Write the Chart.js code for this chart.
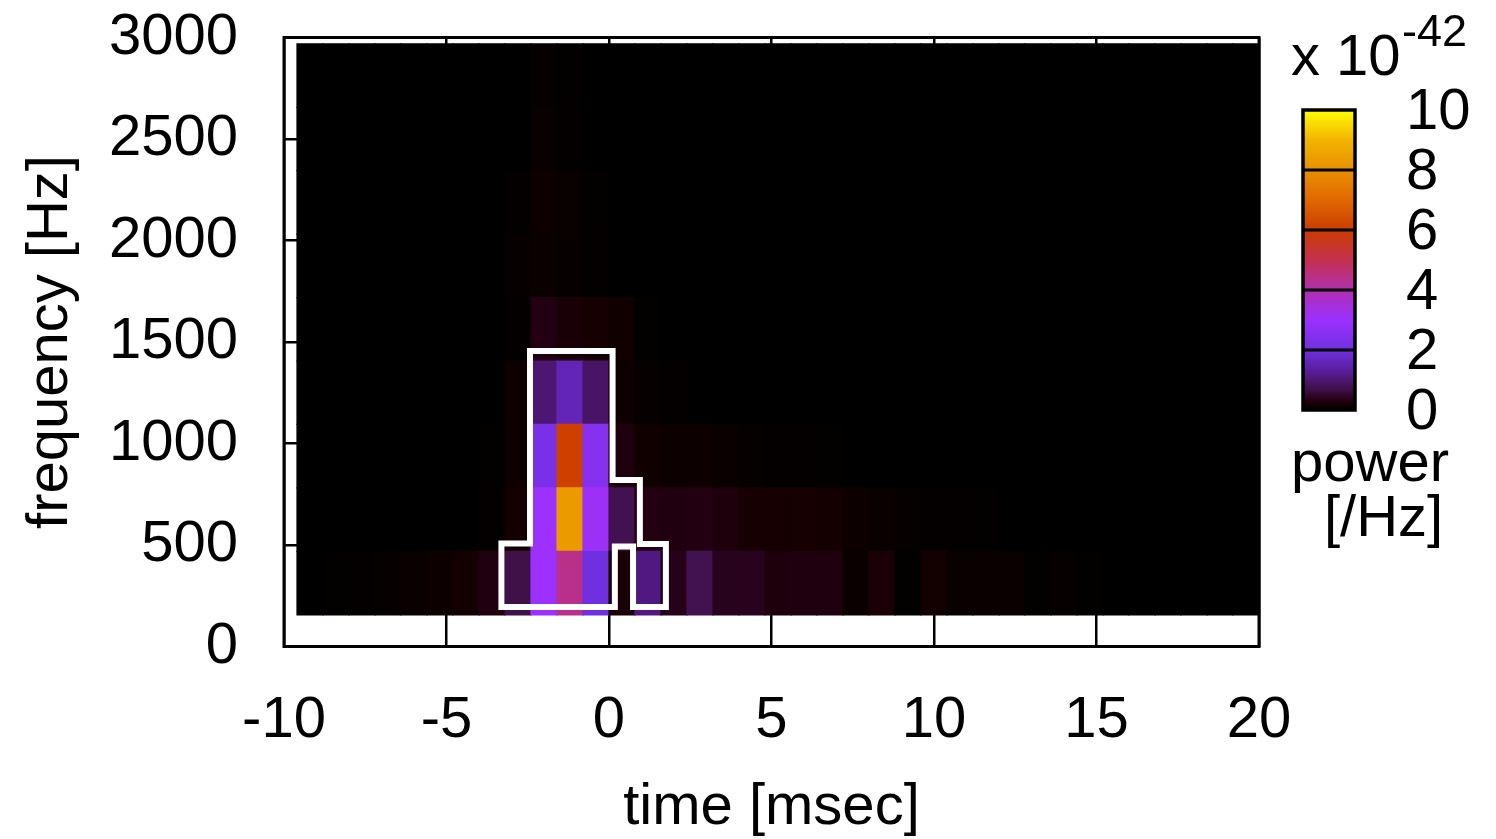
<!DOCTYPE html>
<html>
<head>
<meta charset="utf-8">
<title>spectrogram</title>
<script src="https://cdn.jsdelivr.net/npm/chart.js@4"></script>
<style>
  html, body { margin: 0; padding: 0; background: #fff; }
  #wrap { width: 1496px; height: 839px; position: relative; }
</style>
</head>
<body>
<div id="wrap"><canvas id="spec"></canvas></div>
<script>
// time bin centres [msec] and frequency bin centres [Hz]
const timeBins = [-9.2, -8.4, -7.6, -6.8, -6.0, -5.2, -4.4, -3.6, -2.8, -2.0,
                  -1.2, -0.4, 0.4, 1.2, 2.0, 2.8, 3.6, 4.4, 5.2, 6.0,
                  6.8, 7.6, 8.4, 9.2, 10.0, 10.8, 11.6, 12.4, 13.2, 14.0,
                  14.8, 15.6, 16.4, 17.2, 18.0, 18.8, 19.6];
const freqBins = [312.5, 625, 937.5, 1250, 1562.5, 1875, 2187.5, 2500, 2812.5];
const freqStep = 312.5;

// power per bin, in units of 1e-42 /Hz (one array per frequency bin)
const power0312 = [0, 0.02, 0.04, 0.05, 0.08, 0.1, 0.14, 0.28, 0.7, 3.0,
                   4.4, 2.0, 0.2, 1.1, 0.35, 0.75, 0.38, 0.38, 0.25, 0.27,
                   0.27, 0.08, 0.22, 0.02, 0.14, 0.07, 0.08, 0.08, 0.02, 0.05,
                   0.02, 0, 0, 0, 0, 0, 0];
const power0625 = [0, 0, 0, 0, 0, 0, 0, 0.03, 0.15, 3.0,
                   8.3, 3.1, 0.75, 0.3, 0.28, 0.3, 0.25, 0.18, 0.17, 0.17,
                   0.15, 0.1, 0.07, 0.05, 0.04, 0.03, 0.02, 0, 0, 0,
                   0, 0, 0, 0, 0, 0, 0];
const power0938 = [0, 0, 0, 0, 0, 0, 0, 0.02, 0.1, 2.2,
                   6.1, 2.5, 0.25, 0.12, 0.1, 0.09, 0.07, 0.05, 0.04, 0.03,
                   0.02, 0, 0, 0, 0, 0, 0, 0, 0, 0,
                   0, 0, 0, 0, 0, 0, 0];
const power1250 = [0, 0, 0, 0, 0, 0, 0, 0, 0.1, 1.0,
                   1.6, 0.9, 0.1, 0.05, 0.04, 0, 0, 0, 0, 0,
                   0, 0, 0, 0, 0, 0, 0, 0, 0, 0,
                   0, 0, 0, 0, 0, 0, 0];
const power1562 = [0, 0, 0, 0, 0, 0, 0, 0, 0.04, 0.3,
                   0.2, 0.17, 0.12, 0.02, 0, 0, 0, 0, 0, 0,
                   0, 0, 0, 0, 0, 0, 0, 0, 0, 0,
                   0, 0, 0, 0, 0, 0, 0];
const power1875 = [0, 0, 0, 0, 0, 0, 0, 0, 0.05, 0.08,
                   0.05, 0.03, 0, 0, 0, 0, 0, 0, 0, 0,
                   0, 0, 0, 0, 0, 0, 0, 0, 0, 0,
                   0, 0, 0, 0, 0, 0, 0];
const power2188 = [0, 0, 0, 0, 0, 0, 0, 0, 0.04, 0.1,
                   0.06, 0.02, 0, 0, 0, 0, 0, 0, 0, 0,
                   0, 0, 0, 0, 0, 0, 0, 0, 0, 0,
                   0, 0, 0, 0, 0, 0, 0];
const power2500 = [0, 0, 0, 0, 0, 0, 0, 0, 0, 0.07,
                   0.04, 0, 0, 0, 0, 0, 0, 0, 0, 0,
                   0, 0, 0, 0, 0, 0, 0, 0, 0, 0,
                   0, 0, 0, 0, 0, 0, 0];
const power2812 = [0, 0, 0, 0, 0, 0, 0, 0, 0, 0.05,
                   0.02, 0, 0, 0, 0, 0, 0, 0, 0, 0,
                   0, 0, 0, 0, 0, 0, 0, 0, 0, 0,
                   0, 0, 0, 0, 0, 0, 0];
const powerRows = [power0312, power0625, power0938, power1250, power1562,
                   power1875, power2188, power2500, power2812];

// outline of the significant region (time [msec], frequency [Hz])
const contourTime = [-2.43, 0.11, 0.11, 0.95, 0.95, 1.75, 1.75, 0.74, 0.74, 0.18, 0.18, -3.31, -3.31, -2.43, -2.43];
const contourFreq = [1456, 1456, 820, 820, 505, 505, 195, 195, 492, 492, 195, 195, 508, 508, 1456];

const cbarTicks = [0, 2, 4, 6, 8, 10];

// palette: black -> purple -> magenta -> orange -> yellow
const paletteValues = [0, 0.15, 0.3, 0.7, 1.2, 2, 3, 4, 4.5, 5, 6, 7, 8, 9, 10];
const paletteColors = ['#000000', '#140000', '#220012', '#401048', '#561a90', '#7030e0',
                       '#9b30ff', '#b02fb0', '#bb3080', '#c4304e', '#cc3c00', '#e06800',
                       '#e89000', '#f2b400', '#ffff00'];

const FONT = '"Liberation Sans", Arial, Helvetica, sans-serif';
const FONT_SIZE = 58;

function hexToRgb(h) {
    return [parseInt(h.slice(1, 3), 16), parseInt(h.slice(3, 5), 16), parseInt(h.slice(5, 7), 16)];
}

function powerColor(v) {
    if (v <= paletteValues[0]) return paletteColors[0];
    for (let i = 1; i < paletteValues.length; i++) {
        if (v <= paletteValues[i]) {
            const f = (v - paletteValues[i - 1]) / (paletteValues[i] - paletteValues[i - 1]);
            const a = hexToRgb(paletteColors[i - 1]);
            const b = hexToRgb(paletteColors[i]);
            const c = a.map((x, k) => Math.round(x + (b[k] - x) * f));
            return `rgb(${c[0]},${c[1]},${c[2]})`;
        }
    }
    return paletteColors[paletteColors.length - 1];
}

// one floating-bar dataset per frequency bin, bars overlap at each time
const cellSets = powerRows.map((row, r) => ({
    type: 'bar',
    data: timeBins.map(t => ({ x: t, y: [freqBins[r] - freqStep / 2, freqBins[r] + freqStep / 2] })),
    backgroundColor: row.map(powerColor),
    borderWidth: 0,
    inflateAmount: 0.6,
    grouped: false,
    barPercentage: 1,
    categoryPercentage: 1,
    order: 1
}));

const contourSet = {
    type: 'line',
    data: contourTime.map((t, i) => ({ x: t, y: contourFreq[i] })),
    borderColor: '#ffffff',
    borderWidth: 6,
    borderJoinStyle: 'miter',
    borderCapStyle: 'square',
    pointRadius: 0,
    fill: false,
    tension: 0,
    order: 0
};

// black frame around the plot area
const framePlugin = {
    id: 'frame',
    afterDatasetsDraw(chart) {
        const { ctx, chartArea: a } = chart;
        ctx.save();
        ctx.strokeStyle = '#000';
        ctx.lineWidth = 3;
        ctx.strokeRect(a.left, a.top, a.right - a.left, a.bottom - a.top);
        ctx.restore();
    }
};

// colour scale to the right of the plot
const colorbarPlugin = {
    id: 'colorbar',
    afterDraw(chart) {
        const ctx = chart.ctx;
        const left = 1303, right = 1355, top = 110, bottom = 410;
        const vmax = cbarTicks[cbarTicks.length - 1];
        const toY = v => bottom - (v / vmax) * (bottom - top);

        const grad = ctx.createLinearGradient(0, bottom, 0, top);
        paletteValues.forEach((v, i) => grad.addColorStop(v / vmax, paletteColors[i]));
        ctx.save();
        ctx.fillStyle = grad;
        ctx.fillRect(left, top, right - left, bottom - top);

        ctx.strokeStyle = '#000';
        ctx.lineWidth = 3;
        cbarTicks.slice(1, -1).forEach(v => {
            const y = toY(v);
            ctx.beginPath();
            ctx.moveTo(left, y);
            ctx.lineTo(right, y);
            ctx.stroke();
        });
        ctx.lineWidth = 3.5;
        ctx.strokeRect(left, top, right - left, bottom - top);

        ctx.fillStyle = '#000';
        ctx.font = FONT_SIZE + 'px ' + FONT;
        ctx.textAlign = 'left';
        ctx.textBaseline = 'middle';
        cbarTicks.forEach(v => ctx.fillText(String(v), 1406, toY(v) + 3));

        ctx.textBaseline = 'alphabetic';
        ctx.fillText('x 10', 1291, 75);
        ctx.fillText('power', 1291, 481);
        ctx.fillText('[/Hz]', 1324, 536);
        ctx.font = '45px ' + FONT;
        ctx.fillText('-42', 1402, 46);
        ctx.restore();
    }
};

new Chart(document.getElementById('spec'), {
    type: 'bar',
    data: { datasets: [contourSet, ...cellSets] },
    options: {
        responsive: true,
        maintainAspectRatio: false,
        animation: false,
        layout: { padding: { top: 37.5, right: 237, left: 0, bottom: 0 } },
        plugins: {
            legend: { display: false },
            tooltip: { enabled: false }
        },
        scales: {
            x: {
                type: 'linear',
                min: -10,
                max: 20,
                offset: false,
                afterFit: s => { s.height = 192.5; s.paddingLeft = 0; s.paddingRight = 0; },
                ticks: {
                    stepSize: 5,
                    color: '#000',
                    padding: 40,
                    maxRotation: 0,
                    callback: v => String(v),
                    font: { family: FONT, size: FONT_SIZE }
                },
                grid: { color: '#000', lineWidth: 2.5, drawTicks: false, offset: false },
                border: { display: false },
                title: {
                    display: true,
                    text: 'time [msec]',
                    color: '#000',
                    padding: { top: 0, bottom: -4 },
                    font: { family: FONT, size: FONT_SIZE }
                }
            },
            y: {
                type: 'linear',
                min: 0,
                max: 3000,
                afterFit: s => { s.width = 284; s.paddingTop = 0; s.paddingBottom = 0; },
                ticks: {
                    stepSize: 500,
                    color: '#000',
                    padding: 46,
                    callback: v => String(v),
                    font: { family: FONT, size: FONT_SIZE }
                },
                grid: { color: '#000', lineWidth: 2.5, drawTicks: false },
                border: { display: false },
                title: {
                    display: true,
                    text: 'frequency [Hz]',
                    color: '#000',
                    padding: { top: 16, bottom: 0 },
                    font: { family: FONT, size: FONT_SIZE }
                }
            }
        }
    },
    plugins: [framePlugin, colorbarPlugin]
});
</script>
</body>
</html>
